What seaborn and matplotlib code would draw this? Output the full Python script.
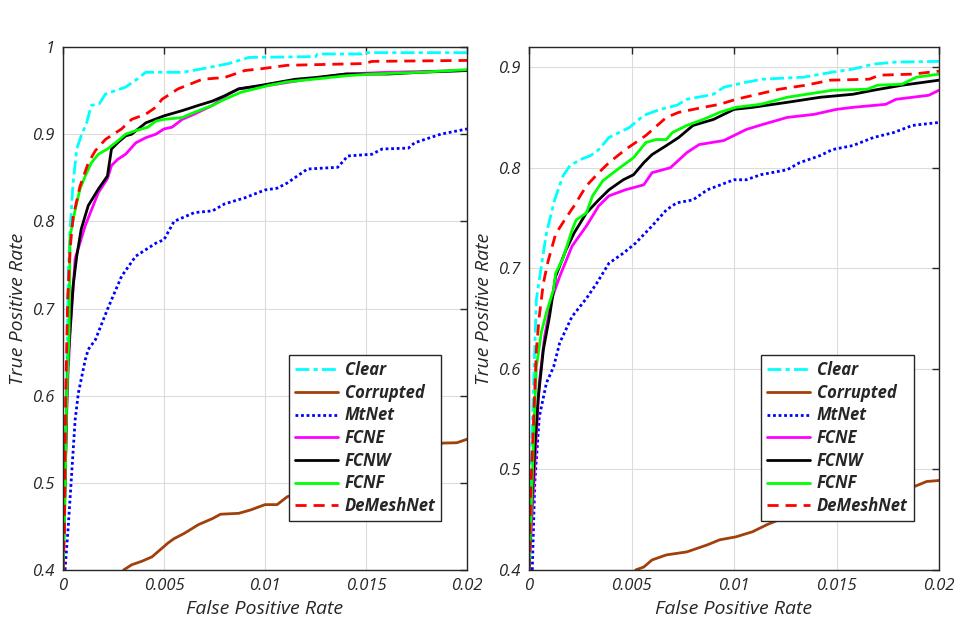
import numpy as np
import pandas as pd
import matplotlib
matplotlib.use("Agg")
import matplotlib.pyplot as plt
import seaborn as sns
from matplotlib.ticker import FormatStrFormatter, FuncFormatter

# ---------------- data (FPR in units of 1, TPR) ----------------
# Left panel
L_clear_x = [0.0, 0.0001, 0.00018, 0.00026, 0.00035, 0.0005, 0.00068, 0.0009, 0.00117, 0.0014, 0.0018, 0.0021, 0.0026, 0.0031, 0.0036, 0.0041, 0.0059, 0.0069, 0.0082, 0.0092, 0.0125, 0.0126, 0.0148, 0.0149, 0.02]
L_clear_y = [0.40, 0.50, 0.60, 0.74, 0.79, 0.844, 0.883, 0.898, 0.913, 0.933, 0.935, 0.946, 0.95, 0.954, 0.962, 0.971, 0.971, 0.975, 0.981, 0.988, 0.989, 0.992, 0.992, 0.9935, 0.9935]

L_corr_x = [0.003, 0.0034, 0.0039, 0.0044, 0.0049, 0.0052, 0.0055, 0.006, 0.0067, 0.0074, 0.0078, 0.0087, 0.0093, 0.010, 0.0106, 0.0111, 0.013, 0.015, 0.017, 0.0188, 0.0195, 0.02]
L_corr_y = [0.40, 0.406, 0.41, 0.415, 0.425, 0.431, 0.436, 0.442, 0.452, 0.459, 0.464, 0.465, 0.469, 0.475, 0.475, 0.484, 0.50, 0.515, 0.53, 0.5456, 0.546, 0.55]

L_mt_x = [0.0001, 0.00026, 0.0004, 0.0006, 0.00076, 0.0011, 0.00125, 0.0016, 0.0022, 0.0029, 0.0036, 0.0046, 0.005, 0.0055, 0.0065, 0.0074, 0.008, 0.009, 0.010, 0.0106, 0.0111, 0.0121, 0.0136, 0.0141, 0.0153, 0.0158, 0.0171, 0.0174, 0.0187, 0.02]
L_mt_y = [0.40, 0.45, 0.50, 0.572, 0.603, 0.641, 0.653, 0.664, 0.699, 0.737, 0.76, 0.775, 0.779, 0.80, 0.81, 0.812, 0.82, 0.827, 0.836, 0.838, 0.844, 0.86, 0.862, 0.875, 0.877, 0.883, 0.884, 0.89, 0.90, 0.906]

L_fcne_x = [0.0, 0.0001, 0.0002, 0.00035, 0.0006, 0.0011, 0.00175, 0.0022, 0.0024, 0.0027, 0.0031, 0.0036, 0.0041, 0.0046, 0.005, 0.0054, 0.0059, 0.0065, 0.0074, 0.0082, 0.0087, 0.0102, 0.0121, 0.014, 0.0161, 0.02]
L_fcne_y = [0.40, 0.50, 0.60, 0.672, 0.757, 0.795, 0.833, 0.849, 0.864, 0.871, 0.877, 0.89, 0.896, 0.90, 0.906, 0.908, 0.917, 0.923, 0.933, 0.946, 0.952, 0.956, 0.963, 0.969, 0.971, 0.973]

L_fcnw_x = [0.0, 0.0001, 0.00023, 0.00035, 0.0005, 0.00068, 0.0009, 0.00125, 0.00175, 0.0022, 0.0024, 0.0027, 0.0031, 0.0034, 0.0041, 0.005, 0.0059, 0.0067, 0.0074, 0.008, 0.0087, 0.0098, 0.0115, 0.0125, 0.014, 0.0161, 0.0177, 0.02]
L_fcnw_y = [0.40, 0.50, 0.634, 0.676, 0.726, 0.76, 0.791, 0.818, 0.837, 0.852, 0.883, 0.89, 0.898, 0.90, 0.913, 0.921, 0.927, 0.933, 0.938, 0.944, 0.952, 0.956, 0.963, 0.965, 0.969, 0.969, 0.971, 0.973]

L_fcnf_x = [0.0, 0.0001, 0.00018, 0.0003, 0.00035, 0.0006, 0.00084, 0.0011, 0.0014, 0.00175, 0.0022, 0.0027, 0.0031, 0.0036, 0.0042, 0.0046, 0.005, 0.0059, 0.0065, 0.0074, 0.008, 0.0088, 0.0102, 0.0111, 0.0128, 0.014, 0.0153, 0.0177, 0.02]
L_fcnf_y = [0.40, 0.48, 0.595, 0.672, 0.783, 0.813, 0.837, 0.852, 0.867, 0.877, 0.883, 0.892, 0.90, 0.904, 0.908, 0.915, 0.917, 0.919, 0.925, 0.933, 0.94, 0.948, 0.956, 0.96, 0.964, 0.967, 0.969, 0.971, 0.974]

L_dm_x = [0.0, 0.00007, 0.00013, 0.00023, 0.00035, 0.0005, 0.00084, 0.00125, 0.0016, 0.0021, 0.0025, 0.0029, 0.0034, 0.0041, 0.0046, 0.0049, 0.0057, 0.0069, 0.008, 0.009, 0.0098, 0.0111, 0.0149, 0.0153, 0.02]
L_dm_y = [0.40, 0.442, 0.595, 0.71, 0.768, 0.805, 0.840, 0.867, 0.881, 0.894, 0.90, 0.906, 0.917, 0.923, 0.931, 0.94, 0.952, 0.963, 0.965, 0.973, 0.975, 0.979, 0.981, 0.9835, 0.9846]

# Right panel
R_clear_x = [0.0, 0.00011, 0.0002, 0.00036, 0.0006, 0.00085, 0.00125, 0.00166, 0.002, 0.0025, 0.003, 0.0034, 0.0039, 0.0049, 0.0056, 0.0064, 0.0072, 0.0077, 0.009, 0.0095, 0.0106, 0.0114, 0.0134, 0.0148, 0.0158, 0.0168, 0.0179, 0.02]
R_clear_y = [0.40, 0.503, 0.57, 0.669, 0.702, 0.735, 0.768, 0.792, 0.802, 0.808, 0.812, 0.818, 0.83, 0.84, 0.852, 0.858, 0.862, 0.868, 0.873, 0.88, 0.885, 0.888, 0.89, 0.895, 0.898, 0.903, 0.905, 0.9057]

R_corr_x = [0.0052, 0.0056, 0.006, 0.0067, 0.0077, 0.0087, 0.0093, 0.0101, 0.0109, 0.0116, 0.0122, 0.014, 0.016, 0.018, 0.0188, 0.0194, 0.02]
R_corr_y = [0.40, 0.403, 0.41, 0.415, 0.418, 0.425, 0.43, 0.433, 0.438, 0.445, 0.45, 0.46, 0.47, 0.478, 0.483, 0.488, 0.489]

R_mt_x = [0.00016, 0.00028, 0.0005, 0.00085, 0.0012, 0.0015, 0.0021, 0.0028, 0.0033, 0.0039, 0.0046, 0.0052, 0.006, 0.0067, 0.0072, 0.008, 0.0087, 0.010, 0.0106, 0.0113, 0.0126, 0.0132, 0.0142, 0.0148, 0.0158, 0.0168, 0.0178, 0.0187, 0.02]
R_mt_y = [0.40, 0.486, 0.552, 0.586, 0.602, 0.626, 0.652, 0.67, 0.685, 0.705, 0.715, 0.725, 0.742, 0.758, 0.765, 0.768, 0.778, 0.788, 0.788, 0.793, 0.798, 0.805, 0.812, 0.818, 0.822, 0.83, 0.835, 0.842, 0.845]

R_fcne_x = [0.0, 0.0001, 0.00028, 0.0005, 0.00076, 0.0011, 0.0015, 0.0021, 0.0028, 0.0034, 0.0039, 0.0047, 0.0056, 0.006, 0.0069, 0.0077, 0.0083, 0.0095, 0.0106, 0.0114, 0.0126, 0.0139, 0.015, 0.0158, 0.0174, 0.0179, 0.0195, 0.02]
R_fcne_y = [0.40, 0.436, 0.503, 0.586, 0.632, 0.669, 0.692, 0.722, 0.742, 0.762, 0.772, 0.778, 0.783, 0.795, 0.80, 0.815, 0.823, 0.827, 0.838, 0.843, 0.85, 0.853, 0.858, 0.86, 0.863, 0.868, 0.872, 0.877]

R_fcnw_x = [0.0, 0.0001, 0.00028, 0.00044, 0.0007, 0.001, 0.0013, 0.0018, 0.0022, 0.0028, 0.0034, 0.0039, 0.0046, 0.0051, 0.0056, 0.006, 0.0067, 0.0073, 0.008, 0.009, 0.010, 0.0109, 0.0126, 0.0142, 0.0158, 0.0168, 0.0182, 0.02]
R_fcnw_y = [0.40, 0.453, 0.52, 0.569, 0.619, 0.652, 0.692, 0.718, 0.735, 0.755, 0.768, 0.778, 0.788, 0.793, 0.805, 0.813, 0.822, 0.83, 0.842, 0.848, 0.858, 0.86, 0.865, 0.87, 0.873, 0.877, 0.882, 0.887]

R_fcnf_x = [0.0, 0.0001, 0.00023, 0.00036, 0.0006, 0.00085, 0.0012, 0.0013, 0.00166, 0.0021, 0.0023, 0.0028, 0.0031, 0.0036, 0.0043, 0.0051, 0.0057, 0.0062, 0.0067, 0.007, 0.0077, 0.0085, 0.0093, 0.0101, 0.0113, 0.0126, 0.0148, 0.0165, 0.017, 0.0182, 0.0189, 0.02]
R_fcnf_y = [0.40, 0.453, 0.536, 0.602, 0.636, 0.656, 0.679, 0.695, 0.71, 0.738, 0.748, 0.755, 0.772, 0.787, 0.798, 0.81, 0.825, 0.828, 0.828, 0.835, 0.842, 0.848, 0.855, 0.86, 0.863, 0.87, 0.877, 0.878, 0.882, 0.883, 0.89, 0.893]

R_dm_x = [0.0, 0.0001, 0.00023, 0.00036, 0.0005, 0.0007, 0.00093, 0.0013, 0.0018, 0.0022, 0.0028, 0.0034, 0.0039, 0.0047, 0.0052, 0.0057, 0.0067, 0.0073, 0.0085, 0.0093, 0.0101, 0.0122, 0.0135, 0.0147, 0.0166, 0.0171, 0.0187, 0.02]
R_dm_y = [0.40, 0.486, 0.552, 0.619, 0.652, 0.685, 0.707, 0.734, 0.75, 0.762, 0.782, 0.795, 0.805, 0.818, 0.825, 0.832, 0.85, 0.855, 0.86, 0.863, 0.868, 0.878, 0.882, 0.887, 0.888, 0.892, 0.893, 0.896]

names = ["Clear", "Corrupted", "MtNet", "FCNE", "FCNW", "FCNF", "DeMeshNet"]
left_data = [(L_clear_x, L_clear_y), (L_corr_x, L_corr_y), (L_mt_x, L_mt_y), (L_fcne_x, L_fcne_y),
             (L_fcnw_x, L_fcnw_y), (L_fcnf_x, L_fcnf_y), (L_dm_x, L_dm_y)]
right_data = [(R_clear_x, R_clear_y), (R_corr_x, R_corr_y), (R_mt_x, R_mt_y), (R_fcne_x, R_fcne_y),
              (R_fcnw_x, R_fcnw_y), (R_fcnf_x, R_fcnf_y), (R_dm_x, R_dm_y)]

x_ticks = [0, 0.005, 0.01, 0.015, 0.02]
x_tick_labels = ["0", "0.005", "0.01", "0.015", "0.02"]
left_yticks = [0.4, 0.5, 0.6, 0.7, 0.8, 0.9, 1.0]
right_yticks = [0.4, 0.5, 0.6, 0.7, 0.8, 0.9]

# ---------------- styling ----------------
sns.set_style("white")
plt.rcParams["font.family"] = ["Open Sans", "DejaVu Sans"]

colors = ["#00FFFF", "#A0400C", "#0000FF", "#FF00FF", "#000000", "#00FF00", "#FF0000"]
styles = [(0, (5, 1.5, 1.5, 1.5)), "-", (0, (1, 1)), "-", "-", "-", (0, (4, 2.5))]
txt_color = "#262626"

fig = plt.figure(figsize=(9.56, 6.4), dpi=100)
ax_l = fig.add_axes([63 / 956, 70 / 640, 404 / 956, 523 / 640])
ax_r = fig.add_axes([529 / 956, 70 / 640, 410 / 956, 523 / 640])


def draw(ax, data, ylim, yticks, legend_x):
    for name, (xs, ys), c, ls in zip(names, data, colors, styles):
        df = pd.DataFrame({"fpr": xs, "tpr": ys})
        sns.lineplot(data=df, x="fpr", y="tpr", ax=ax, color=c, linestyle=ls,
                     linewidth=2.0, label=name, estimator=None, sort=False)
    ax.set_xlim(0, 0.02)
    ax.set_ylim(*ylim)
    ax.set_xticks(x_ticks)
    ax.set_xticklabels(x_tick_labels)
    ax.set_yticks(yticks)
    ax.yaxis.set_major_formatter(FuncFormatter(lambda v, p: "%g" % round(v, 3)))
    ax.grid(True, color="#dcdcdc", linewidth=0.8)
    ax.set_axisbelow(True)
    for s in ax.spines.values():
        s.set_visible(True)
        s.set_color("#262626")
        s.set_linewidth(1.0)
    ax.tick_params(direction="in", top=True, right=True, length=5, width=1,
                   labelsize=12, colors=txt_color, pad=6)
    for lab in ax.get_xticklabels() + ax.get_yticklabels():
        lab.set_fontstyle("italic")
    ax.set_xlabel("False Positive Rate", fontsize=14, fontstyle="italic", color=txt_color, labelpad=4)
    ax.set_ylabel("True Positive Rate", fontsize=14, fontstyle="italic", color=txt_color, labelpad=4)
    leg = ax.legend(loc="lower left", bbox_to_anchor=(legend_x, 0.0937), borderaxespad=0,
                    frameon=True, fancybox=False, framealpha=1, edgecolor="#262626",
                    handlelength=2.6, labelspacing=0.28, handletextpad=0.4, borderpad=0.35,
                    prop={"size": 12, "weight": "bold", "style": "italic"})
    leg.get_frame().set_linewidth(1.0)


draw(ax_l, left_data, (0.4, 1.0), left_yticks, 0.559)
draw(ax_r, right_data, (0.4, 0.92), right_yticks, 0.566)

fig.savefig("out.png", dpi=100, facecolor="white")
